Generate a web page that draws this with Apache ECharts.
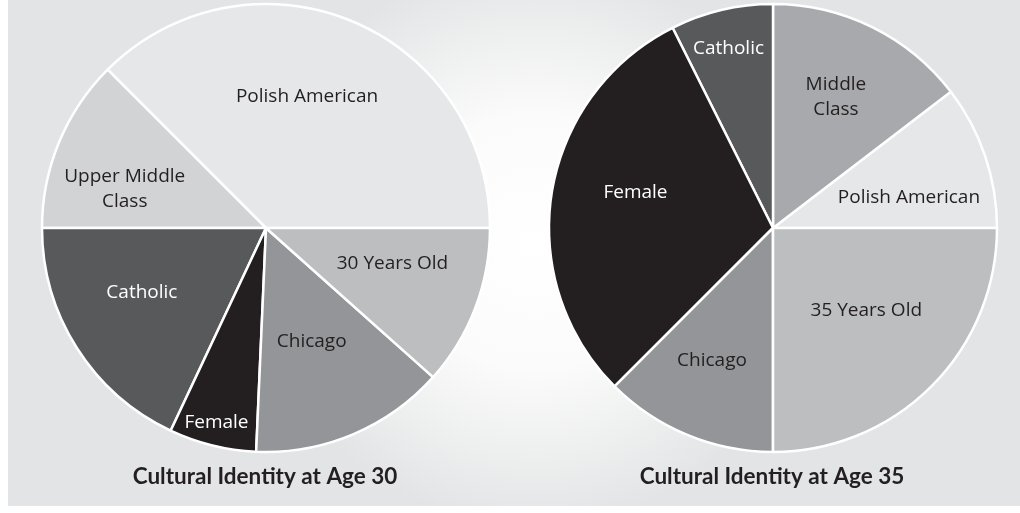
<!DOCTYPE html>
<html>
<head>
<meta charset="utf-8">
<script src="https://cdn.jsdelivr.net/npm/echarts@6/dist/echarts.min.js"></script>
<style>
  html, body { margin: 0; padding: 0; background: #fff; }
  #main { width: 1020px; height: 513px; }
</style>
</head>
<body>
<div id="main"></div>
<script>
// slice shares (percent), read counter-clockwise from 3 o'clock
var cats30 = ['Polish American', 'Upper Middle\nClass', 'Catholic', 'Female', 'Chicago', '30 Years Old'];
var vals30 = [37.5, 12.5, 18.0, 6.3, 14.1, 11.6];

var cats35 = ['Polish American', 'Middle\nClass', 'Catholic', 'Female', 'Chicago', '35 Years Old'];
var vals35 = [10.4, 14.6, 7.4, 30.1, 12.5, 25.0];

var titles = ['Cultural Identity at Age 30', 'Cultural Identity at Age 35'];

// gray shade per identity
var fills = {
    'Polish American': '#e6e7e8',
    'Upper Middle\nClass': '#d1d3d4',
    'Middle\nClass': '#a7a9ac',
    'Catholic': '#58595b',
    'Female': '#231f20',
    'Chicago': '#939598',
    '30 Years Old': '#bcbec0',
    '35 Years Old': '#bcbec0'
};
var darkSlices = ['Catholic', 'Female'];

// label nudges away from the default mid-radius spot
var nudge30 = [[-3, -25], [-35, 5], [-27, 3], [-22, 83], [1, 8], [19, -5]];
var nudge35 = [[27, 7], [12, -28], [-18, -67], [-24, -17], [-17, 26], [12, 1]];

function makeData(cats, vals) {
    return cats.map(function (c, i) {
        return {
            name: c,
            value: vals[i],
            itemStyle: { color: fills[c] },
            label: { color: darkSlices.indexOf(c) >= 0 ? '#ffffff' : '#231f20' }
        };
    });
}

function makePie(cats, vals, center, nudge) {
    return {
        type: 'pie',
        center: center,
        radius: 224,
        startAngle: 0,
        clockwise: false,
        silent: true,
        itemStyle: { borderColor: '#ffffff', borderWidth: 2.5 },
        label: {
            position: 'inside',
            fontFamily: 'Open Sans',
            fontWeight: 500,
            fontSize: 19,
            lineHeight: 25
        },
        labelLine: { show: false },
        labelLayout: function (p) {
            return { dx: nudge[p.dataIndex][0], dy: nudge[p.dataIndex][1] };
        },
        emphasis: { disabled: true },
        data: makeData(cats, vals)
    };
}

var titleStyle = { fontFamily: 'Lato', fontWeight: 'bold', fontSize: 22.5, color: '#231f20' };

var option = {
    animation: false,
    graphic: [{
        type: 'rect',
        z: -10,
        silent: true,
        shape: { x: 8, y: 0, width: 1012, height: 506 },
        style: {
            fill: new echarts.graphic.RadialGradient(0.52, 0.48, 0.56, [
                { offset: 0, color: '#ffffff' },
                { offset: 0.45, color: '#fbfbfb' },
                { offset: 1, color: '#e3e4e5' }
            ])
        }
    }],
    title: [
        { text: titles[0], left: 265, top: 465, padding: 0, textAlign: 'center', textStyle: titleStyle },
        { text: titles[1], left: 772, top: 465, padding: 0, textAlign: 'center', textStyle: titleStyle }
    ],
    series: [
        makePie(cats30, vals30, [266, 228], nudge30),
        makePie(cats35, vals35, [773, 228], nudge35)
    ]
};

var myChart = echarts.init(document.getElementById('main'));
myChart.setOption(option);
</script>
</body>
</html>
